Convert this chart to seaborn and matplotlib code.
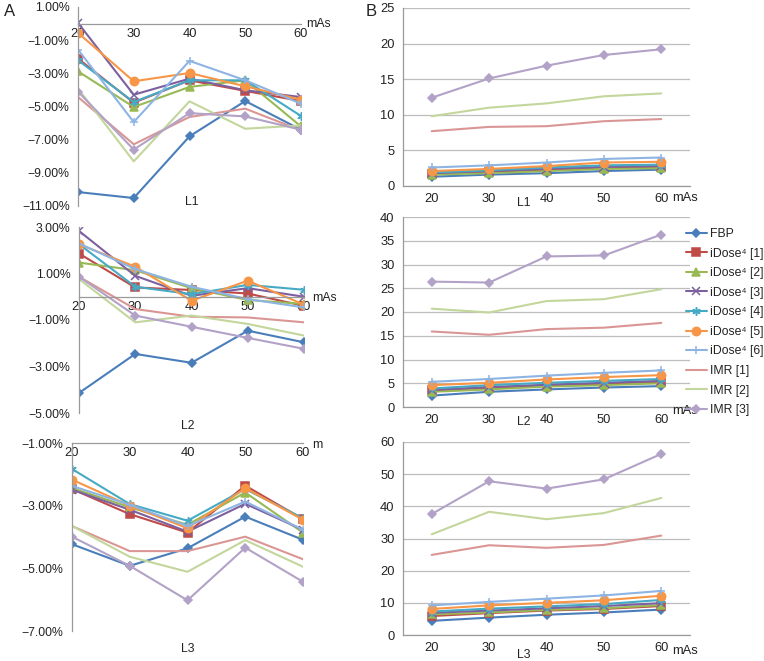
import matplotlib
matplotlib.use('Agg')
import matplotlib.pyplot as plt
import seaborn as sns
import numpy as np

# x categories (mAs)
mas = [20, 30, 40, 50, 60]

methods = ['FBP', 'iDose⁴ [1]', 'iDose⁴ [2]', 'iDose⁴ [3]', 'iDose⁴ [4]',
           'iDose⁴ [5]', 'iDose⁴ [6]', 'IMR [1]', 'IMR [2]', 'IMR [3]']
colors = ['#4A7EBB', '#BE4B48', '#98B954', '#7D60A0', '#46AAC5',
          '#F79646', '#8EB4E3', '#D99694', '#C3D69B', '#B3A2C7']
markers = ['D', 's', '^', 'x', (6, 2, 0), 'o', '+', '', '', 'D']
msizes = [4.5, 5.5, 5.5, 5.5, 6, 6, 6, 0, 0, 4.5]

# A: relative change (%) per method, order as methods
l1_pct = [
    [-10.16, -10.52, -6.80, -4.67, -6.40],
    [-2.11, -4.77, -3.42, -4.06, -4.67],
    [-2.88, -5.03, -3.82, -3.42, -6.20],
    [0.04, -4.29, -3.32, -4.02, -4.43],
    [-2.21, -4.73, -3.42, -3.42, -5.57],
    [-0.56, -3.48, -2.98, -3.78, -4.59],
    [-1.57, -5.94, -2.25, -3.42, -4.83],
    [-4.43, -7.28, -5.63, -5.13, -6.44],
    [-3.92, -8.31, -4.69, -6.34, -6.14],
    [-4.10, -7.60, -5.40, -5.60, -6.40],
]
l2_pct = [
    [-4.14, -2.46, -2.84, -1.46, -1.96],
    [1.86, 0.40, 0.29, 0.14, -0.39],
    [1.47, 1.14, 0.37, -0.14, -0.31],
    [2.83, 0.90, 0.04, 0.37, 0.00],
    [2.26, 0.43, 0.11, 0.51, 0.30],
    [2.26, 1.29, -0.17, 0.69, -0.34],
    [2.29, 1.19, 0.43, -0.10, -0.46],
    [0.86, -0.53, -0.86, -0.89, -1.10],
    [0.76, -1.10, -0.81, -1.17, -1.67],
    [0.86, -0.81, -1.29, -1.77, -2.24],
]
l3_pct = [
    [-4.23, -4.92, -4.36, -3.35, -4.09],
    [-2.47, -3.27, -3.86, -2.36, -3.43],
    [-2.44, -3.05, -3.61, -2.58, -3.86],
    [-2.49, -3.13, -3.83, -2.94, -3.77],
    [-1.83, -2.95, -3.48, -2.47, -3.40],
    [-2.17, -3.00, -3.72, -2.44, -3.45],
    [-2.37, -2.97, -3.65, -2.87, -3.77],
    [-3.65, -4.45, -4.45, -3.99, -4.71],
    [-3.65, -4.63, -5.11, -4.10, -4.95],
    [-3.99, -4.92, -6.02, -4.34, -5.43],
]

# B: absolute values per method
l1_abs = [
    [1.3, 1.6, 1.8, 2.1, 2.3],
    [1.7, 2.0, 2.2, 2.5, 2.6],
    [1.6, 1.8, 2.1, 2.4, 2.5],
    [1.8, 2.1, 2.4, 2.7, 2.8],
    [1.9, 2.2, 2.6, 2.9, 3.0],
    [2.1, 2.4, 2.8, 3.3, 3.4],
    [2.6, 2.9, 3.3, 3.8, 4.0],
    [7.7, 8.3, 8.4, 9.1, 9.4],
    [9.8, 11.0, 11.6, 12.6, 13.0],
    [12.4, 15.1, 16.9, 18.4, 19.2],
]
l2_abs = [
    [2.4, 3.2, 3.7, 4.1, 4.4],
    [3.5, 4.0, 4.5, 4.9, 5.2],
    [3.2, 3.7, 4.3, 4.6, 5.0],
    [3.6, 4.2, 4.7, 5.1, 5.5],
    [3.9, 4.6, 5.1, 5.5, 5.9],
    [4.6, 5.1, 5.8, 6.3, 6.7],
    [5.3, 5.9, 6.6, 7.2, 7.7],
    [15.9, 15.2, 16.4, 16.7, 17.7],
    [20.7, 19.9, 22.3, 22.7, 24.8],
    [26.4, 26.2, 31.7, 31.9, 36.3],
]
l3_abs = [
    [4.4, 5.4, 6.3, 7.0, 7.9],
    [5.9, 6.8, 7.6, 8.1, 9.0],
    [6.4, 7.0, 7.8, 8.3, 9.3],
    [6.9, 7.6, 8.3, 9.0, 9.9],
    [7.3, 8.2, 8.9, 9.6, 10.9],
    [8.1, 9.2, 10.0, 10.8, 12.2],
    [9.2, 10.3, 11.3, 12.3, 13.7],
    [24.9, 27.9, 27.1, 28.0, 30.9],
    [31.3, 38.3, 36.0, 37.9, 42.6],
    [37.6, 47.8, 45.5, 48.4, 56.3],
]

l1_pct_ticks = [1, -1, -3, -5, -7, -9, -11]
l2_pct_ticks = [3, 1, -1, -3, -5]
l3_pct_ticks = [-1, -3, -5, -7]

sns.set_theme(style='white')
plt.rcParams['font.family'] = ['Liberation Sans', 'DejaVu Sans']
plt.rcParams['axes.unicode_minus'] = True

W, H = 764, 661
fig = plt.figure(figsize=(W / 100, H / 100), dpi=100)
fs = 8.8
spine_c = '#9a9a9a'
txt_c = '#222222'


def px_axes(x0, y0, x1, y1):
    return fig.add_axes([x0 / W, 1 - y1 / H, (x1 - x0) / W, (y1 - y0) / H])


def ftext(x, y, s, **kw):
    fig.text(x / W, 1 - y / H, s, fontsize=kw.pop('fontsize', fs), color=txt_c, **kw)


def draw(ax, table):
    for name, c, m, ms, vals in zip(methods, colors, markers, msizes, table):
        sns.lineplot(x=mas, y=vals, color=c, marker=m, markersize=ms,
                     markeredgecolor=c, markerfacecolor=c, markeredgewidth=1.1,
                     linewidth=1.5, label=name, estimator=None, errorbar=None, ax=ax)
    if ax.get_legend() is not None:
        ax.get_legend().remove()
    ax.set_xlabel('')
    ax.set_ylabel('')


def pct_fmt(v):
    return f'{v:.2f}%'.replace('-', '−')


def left_panel(box, table, ylim, ticks, axis_y):
    ax = px_axes(*box)
    draw(ax, table)
    ax.set_xlim(20, 60)
    ax.set_ylim(*ylim)
    ax.set_xticks(mas)
    ax.set_xticklabels([str(m) for m in mas])
    ax.set_yticks(ticks)
    ax.set_yticklabels([pct_fmt(t) for t in ticks])
    for s in ['top', 'right']:
        ax.spines[s].set_visible(False)
    ax.spines['bottom'].set_position(('data', axis_y))
    for s in ['left', 'bottom']:
        ax.spines[s].set_color(spine_c)
        ax.spines[s].set_linewidth(0.9)
    ax.tick_params(axis='x', direction='in', length=4, color=spine_c, labelsize=fs + 0.5,
                   labelcolor=txt_c, pad=3)
    ax.tick_params(axis='y', direction='out', length=4, color=spine_c, labelsize=fs,
                   labelcolor=txt_c, pad=2)
    ax.patch.set_alpha(0)
    return ax


def right_panel(box, table, ymax, step):
    ax = px_axes(*box)
    draw(ax, table)
    ax.set_xlim(15, 65)
    ax.set_ylim(0, ymax)
    ax.set_xticks(mas)
    ax.set_xticklabels([str(m) for m in mas])
    ax.set_xticks([25, 35, 45, 55, 65], minor=True)
    ax.set_yticks(np.arange(0, ymax + 1, step))
    ax.yaxis.grid(True, color='#bdbdbd', linewidth=0.9)
    ax.set_axisbelow(True)
    for s in ['top', 'right']:
        ax.spines[s].set_visible(False)
    for s in ['left', 'bottom']:
        ax.spines[s].set_color(spine_c)
        ax.spines[s].set_linewidth(0.9)
    ax.tick_params(axis='x', which='major', length=0, labelsize=fs + 0.5, labelcolor=txt_c, pad=5)
    ax.tick_params(axis='x', which='minor', direction='out', length=4, color=spine_c)
    ax.tick_params(axis='y', direction='out', length=4, color=spine_c, labelsize=fs + 0.5,
                   labelcolor=txt_c, pad=2)
    return ax


# A column
left_panel((78, 7, 301, 206), l1_pct, (-11, 1), l1_pct_ticks, 0)
left_panel((79, 227, 304, 413), l2_pct, (-5, 3), l2_pct_ticks, 0)
left_panel((72, 443, 303, 631), l3_pct, (-7, -1), l3_pct_ticks, -1)

# B column
right_panel((403, 8, 690, 186), l1_abs, 25, 5)
rax = right_panel((403, 217, 690, 407), l2_abs, 40, 5)
right_panel((403, 442, 690, 635), l3_abs, 60, 10)

# annotation texts
ftext(306, 24, 'mAs', ha='left', va='center')
ftext(312, 298, 'mAs', ha='left', va='center')
ftext(312, 445, 'm', ha='left', va='center')
ftext(192, 202, 'L1', ha='center', va='center')
ftext(188, 426, 'L2', ha='center', va='center')
ftext(188, 649, 'L3', ha='center', va='center')
for yy in (198, 411, 651):
    ftext(672, yy, 'mAs', ha='left', va='center', fontsize=fs + 0.5)
ftext(524, 203, 'L1', ha='center', va='center')
ftext(524, 422, 'L2', ha='center', va='center')
ftext(524, 655, 'L3', ha='center', va='center')
ftext(4, 12, 'A', ha='left', va='center', fontsize=12)
ftext(366, 12, 'B', ha='left', va='center', fontsize=12)

handles, labels = rax.get_legend_handles_labels()
fig.legend(handles, labels, loc='upper left', bbox_to_anchor=(686 / W, 1 - 228 / H),
           frameon=False, fontsize=fs, labelspacing=0.62, handlelength=1.7,
           handletextpad=0.3, borderaxespad=0, borderpad=0, labelcolor=txt_c)

fig.savefig('out.png', dpi=100)
